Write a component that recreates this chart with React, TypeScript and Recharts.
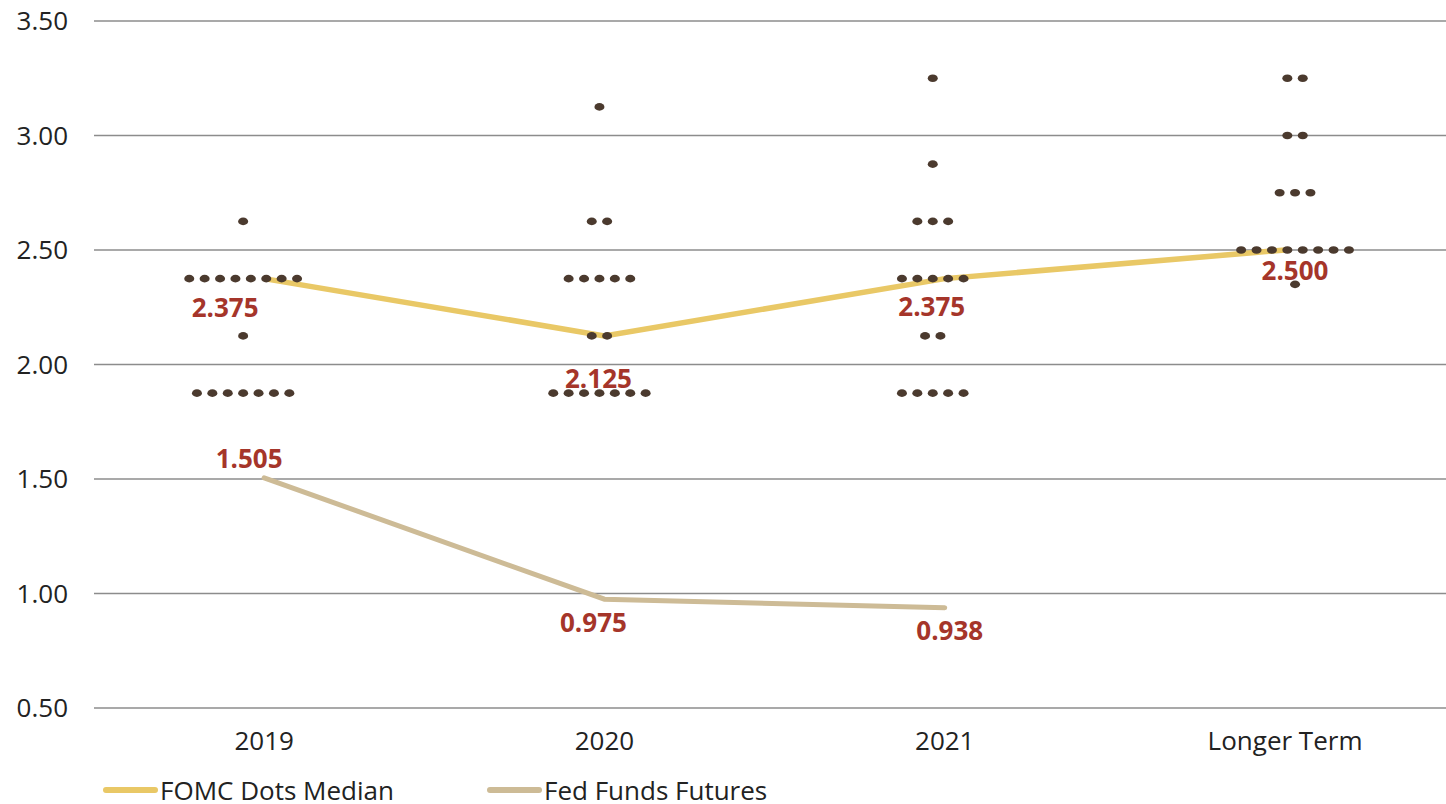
import React from 'react';
import {
  ComposedChart,
  Line,
  Scatter,
  XAxis,
  YAxis,
  CartesianGrid,
  Legend,
  LabelList,
} from 'recharts';

// Category labels along the x axis
const categories = ['2019', '2020', '2021', 'Longer Term'];

// Y axis ticks
const yTicks = [0.5, 1.0, 1.5, 2.0, 2.5, 3.0, 3.5];

// FOMC participants' projections: [rate, number of dots] per category
const dots2019: [number, number][] = [
  [2.625, 1],
  [2.375, 8],
  [2.125, 1],
  [1.875, 7],
];
const dots2020: [number, number][] = [
  [3.125, 1],
  [2.625, 2],
  [2.375, 5],
  [2.125, 2],
  [1.875, 7],
];
const dots2021: [number, number][] = [
  [3.25, 1],
  [2.875, 1],
  [2.625, 3],
  [2.375, 5],
  [2.125, 2],
  [1.875, 5],
];
const dotsLonger: [number, number][] = [
  [3.25, 2],
  [3.0, 2],
  [2.75, 3],
  [2.5, 8],
  [2.35, 1],
];

// Series values
const fomcMedian = [2.375, 2.125, 2.375, 2.5];
const fedFundsFutures = [1.505, 0.975, 0.938];

// ---- layout ----
const CHART_W = 1460;
const CHART_H = 804;
const Y_AXIS_W = 94;
const X_AXIS_H = 30;
const BAND_PX = 340.3;
const DOT_STEP = 15.4 / BAND_PX; // horizontal spacing of dots, in category units
// small horizontal shift of each dot cluster from its tick (px)
const clusterShift = [-21, -5, -12, 10];

const COLORS = {
  median: '#E9C866',
  futures: '#CDBB96',
  dot: '#4B3A2E',
  label: '#A5352A',
  grid: '#8C8C8C',
  text: '#222222',
};

const FONT = '"Open Sans", "Noto Sans", sans-serif';

const medianData = fomcMedian.map((rate, i) => ({ x: i, rate }));
const futuresData = fedFundsFutures.map((rate, i) => ({ x: i, rate }));

const dotGroups = [dots2019, dots2020, dots2021, dotsLonger];
const dotData = dotGroups.flatMap((rows, ci) =>
  rows.flatMap(([rate, count]) =>
    Array.from({ length: count }, (_, j) => ({
      x: ci + clusterShift[ci] / BAND_PX + (j - (count - 1) / 2) * DOT_STEP,
      rate,
    }))
  )
);

// label placement relative to each point (px)
const medianLabelOffsets = [
  [-39, 28],
  [-6, 42],
  [-13, 27],
  [10, 20],
];
const futuresLabelOffsets = [
  [-15, -20],
  [-11, 23],
  [5, 22],
];

const makeLabel = (offsets: number[][]) => (props: any) => {
  const { x, y, value, index } = props;
  const [dx, dy] = offsets[index] || [0, 0];
  return (
    <text
      x={x + dx}
      y={y + dy}
      textAnchor="middle"
      dominantBaseline="central"
      fill={COLORS.label}
      fontFamily={FONT}
      fontWeight={700}
      fontSize={26}
    >
      {Number(value).toFixed(3)}
    </text>
  );
};

const DotShape = (props: any) => {
  const { cx, cy } = props;
  if (cx == null || cy == null) return null;
  return <ellipse cx={cx} cy={cy} rx={5} ry={3.8} fill={COLORS.dot} />;
};

const LegendContent = (props: any) => {
  const payload = (props.payload || []).filter((p: any) => p.type === 'line');
  const lefts = [103, 487];
  return (
    <div style={{ position: 'relative', height: 0, width: 900, overflow: 'visible' }}>
      {payload.map((p: any, i: number) => (
        <div
          key={p.value}
          style={{
            position: 'absolute',
            left: lefts[i],
            top: 0,
            display: 'flex',
            alignItems: 'center',
            whiteSpace: 'nowrap',
          }}
        >
          <span
            style={{
              display: 'inline-block',
              width: 55,
              height: 6,
              borderRadius: 3,
              background: p.color,
              marginRight: 2,
            }}
          />
          <span style={{ fontFamily: FONT, fontSize: 26, color: COLORS.text, lineHeight: '28px' }}>
            {p.value}
          </span>
        </div>
      ))}
    </div>
  );
};

export default function App() {
  return (
    <div
      style={{
        position: 'absolute',
        left: 0,
        top: 0,
        width: 1446,
        height: 804,
        overflow: 'hidden',
        background: '#fff',
      }}
    >
      <ComposedChart
        width={CHART_W}
        height={CHART_H}
        margin={{
          top: 21,
          right: CHART_W - Y_AXIS_W - 4 * BAND_PX,
          bottom: CHART_H - 708 - X_AXIS_H,
          left: 0,
        }}
      >
        <CartesianGrid vertical={false} stroke={COLORS.grid} strokeWidth={1.6} />
        <XAxis
          type="number"
          dataKey="x"
          domain={[-0.5, 3.5]}
          ticks={[0, 1, 2, 3]}
          tickFormatter={(v: number) => categories[v] ?? ''}
          height={X_AXIS_H}
          axisLine={false}
          tickLine={false}
          tickSize={0}
          tickMargin={24}
          interval={0}
          allowDataOverflow
          tick={{ fill: COLORS.text, fontSize: 26, fontFamily: FONT }}
        />
        <YAxis
          type="number"
          dataKey="rate"
          domain={[0.5, 3.5]}
          ticks={yTicks}
          tickFormatter={(v: number) => v.toFixed(2)}
          width={Y_AXIS_W}
          axisLine={false}
          tickLine={false}
          tickSize={0}
          tickMargin={26}
          interval={0}
          tick={{ fill: COLORS.text, fontSize: 26, fontFamily: FONT }}
        />
        <Legend
          layout="vertical"
          align="center"
          verticalAlign="middle"
          wrapperStyle={{ left: 0, top: 776, width: 1000, height: 0, overflow: 'visible' }}
          content={LegendContent}
        />
        <Line
          data={medianData}
          dataKey="rate"
          name="FOMC Dots Median"
          type="linear"
          stroke={COLORS.median}
          strokeWidth={5.5}
          dot={false}
          activeDot={false}
          legendType="line"
          isAnimationActive={false}
        />
        <Line
          data={futuresData}
          dataKey="rate"
          name="Fed Funds Futures"
          type="linear"
          stroke={COLORS.futures}
          strokeWidth={5}
          strokeLinecap="round"
          dot={false}
          activeDot={false}
          legendType="line"
          isAnimationActive={false}
        />
        <Scatter
          data={dotData}
          dataKey="rate"
          shape={DotShape}
          legendType="none"
          isAnimationActive={false}
        />
        <Line
          data={medianData}
          dataKey="rate"
          stroke="none"
          dot={false}
          activeDot={false}
          legendType="none"
          isAnimationActive={false}
        >
          <LabelList dataKey="rate" content={makeLabel(medianLabelOffsets)} />
        </Line>
        <Line
          data={futuresData}
          dataKey="rate"
          stroke="none"
          dot={false}
          activeDot={false}
          legendType="none"
          isAnimationActive={false}
        >
          <LabelList dataKey="rate" content={makeLabel(futuresLabelOffsets)} />
        </Line>
      </ComposedChart>
    </div>
  );
}
